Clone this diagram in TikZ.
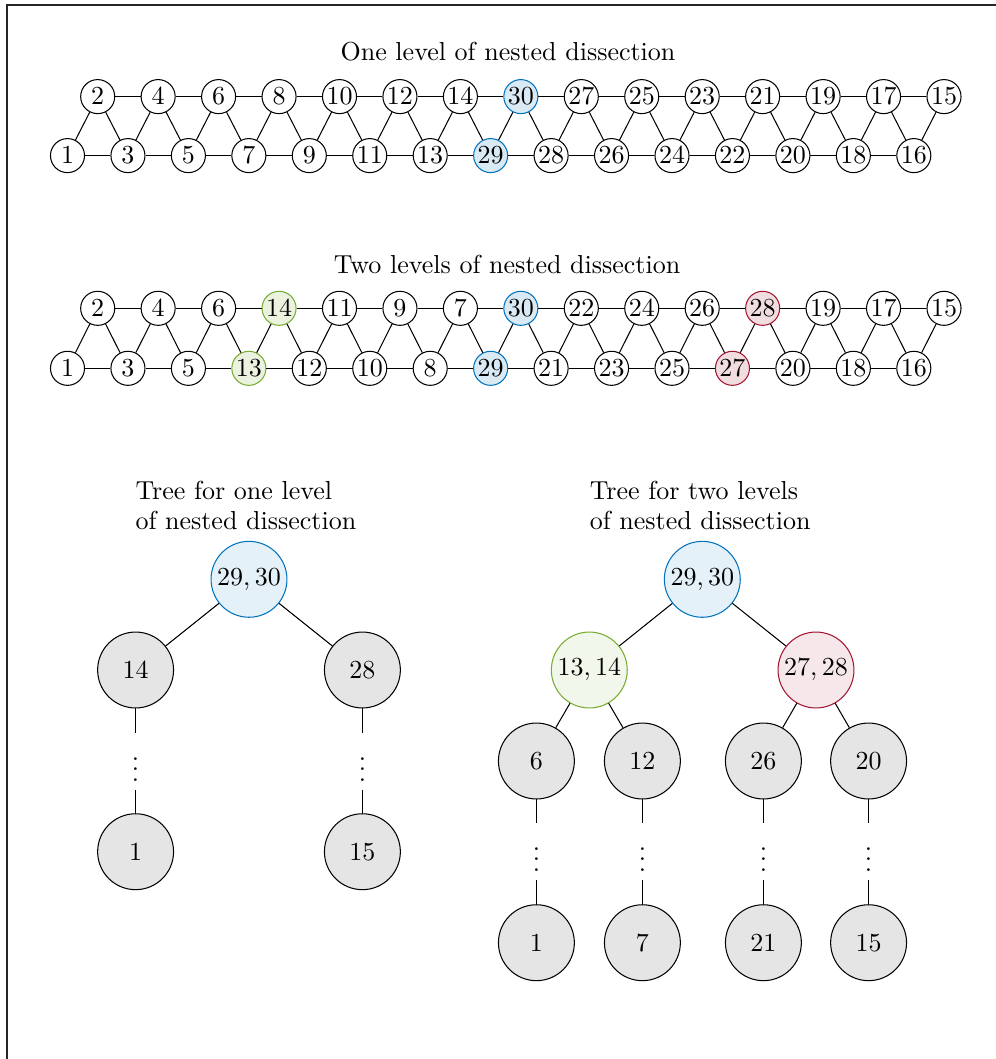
\documentclass[tikz,border=0pt]{standalone}
\usetikzlibrary{calc}
\definecolor{mblue}{RGB}{0,114,189}
\definecolor{mgreen}{RGB}{119,172,48}
\definecolor{mred}{RGB}{162,20,47}
\tikzset{
  gv/.style={circle,draw,fill=white,minimum size=13.1pt,inner sep=0pt},
  gblue/.style={gv,draw=mblue,fill=mblue!15},
  ggreen/.style={gv,draw=mgreen,fill=mgreen!15},
  gred/.style={gv,draw=mred,fill=mred!15},
  tv/.style={circle,draw,fill=black!10,minimum size=29.2pt,inner sep=0pt},
  tblue/.style={tv,draw=mblue,fill=mblue!10},
  tgreen/.style={tv,draw=mgreen,fill=mgreen!10},
  tred/.style={tv,draw=mred,fill=mred!10},
  dotsnode/.style={inner sep=0.333em},
  ttl/.style={align=left,anchor=west,inner sep=0pt},
}
\begin{document}
\begin{tikzpicture}[x=0.3846pt,y=-0.3846pt]
\useasboundingbox (0,0) rectangle (996,1059);
\draw[line width=0.6pt,black!85] (7,1059) -- (7,5) -- (996,5);

% ---------- graph 1 ----------
\node at (508,52) {One level of nested dissection};
\foreach \lab/\st [count=\i from 0] in {1/gv,3/gv,5/gv,7/gv,9/gv,11/gv,13/gv,29/gblue,28/gv,26/gv,24/gv,22/gv,20/gv,18/gv,16/gv}{
  \node[\st] (a\i) at ({67.5+60.45*\i},155.6) {$\lab$};
}
\foreach \lab/\st [count=\i from 0] in {2/gv,4/gv,6/gv,8/gv,10/gv,12/gv,14/gv,30/gblue,27/gv,25/gv,23/gv,21/gv,19/gv,17/gv,15/gv}{
  \node[\st] (b\i) at ({97.7+60.45*\i},96.6) {$\lab$};
}
\foreach \i [evaluate=\i as \j using int(\i+1)] in {0,...,13}{
  \draw (a\i) -- (a\j);
  \draw (b\i) -- (b\j);
  \draw (a\j) -- (b\i);
}
\foreach \i in {0,...,14}{ \draw (a\i) -- (b\i); }

% ---------- graph 2 ----------
\node at (507,264) {Two levels of nested dissection};
\foreach \lab/\st [count=\i from 0] in {1/gv,3/gv,5/gv,13/ggreen,12/gv,10/gv,8/gv,29/gblue,21/gv,23/gv,25/gv,27/gred,20/gv,18/gv,16/gv}{
  \node[\st] (c\i) at ({67.5+60.45*\i},368.3) {$\lab$};
}
\foreach \lab/\st [count=\i from 0] in {2/gv,4/gv,6/gv,14/ggreen,11/gv,9/gv,7/gv,30/gblue,22/gv,24/gv,26/gv,28/gred,19/gv,17/gv,15/gv}{
  \node[\st] (d\i) at ({97.7+60.45*\i},308.3) {$\lab$};
}
\foreach \i [evaluate=\i as \j using int(\i+1)] in {0,...,13}{
  \draw (c\i) -- (c\j);
  \draw (d\i) -- (d\j);
  \draw (c\j) -- (d\i);
}
\foreach \i in {0,...,14}{ \draw (c\i) -- (d\i); }

% ---------- tree 1 ----------
\node[ttl] at (135,490) {Tree for one level};
\node[ttl] at (135,520.5) {of nested dissection};
\node[tblue] (r1) at (249,579.3) {$29,30$};
\node[tv] (l14) at (135.6,670) {$14$};
\node[tv] (l28) at (362.4,670) {$28$};
\node[dotsnode] (ld1) at (135.6,761.5) {$\vdots$};
\node[dotsnode] (ld2) at (362.4,761.5) {$\vdots$};
\node[tv] (l1) at (135.6,851.7) {$1$};
\node[tv] (l15) at (362.4,851.7) {$15$};
\draw (r1) -- (l14);
\draw (r1) -- (l28);
\draw (l14) -- (ld1) -- (l1);
\draw (l28) -- (ld2) -- (l15);

% ---------- tree 2 ----------
\node[ttl] at (589.3,490) {Tree for two levels};
\node[ttl] at (589.3,520.5) {of nested dissection};
\node[tblue] (r2) at (702.3,579.3) {$29,30$};
\node[tgreen] (g1) at (589.3,670) {$13,14$};
\node[tred] (g2) at (816,670) {$27,28$};
\node[tv] (m6) at (536.4,761) {$6$};
\node[tv] (m12) at (642.4,761) {$12$};
\node[tv] (m26) at (763.4,761) {$26$};
\node[tv] (m20) at (868.6,761) {$20$};
\node[dotsnode] (md1) at (536.4,851.7) {$\vdots$};
\node[dotsnode] (md2) at (642.4,851.7) {$\vdots$};
\node[dotsnode] (md3) at (763.4,851.7) {$\vdots$};
\node[dotsnode] (md4) at (868.6,851.7) {$\vdots$};
\node[tv] (n1) at (536.4,942.7) {$1$};
\node[tv] (n7) at (642.4,942.7) {$7$};
\node[tv] (n21) at (763.4,942.7) {$21$};
\node[tv] (n15) at (868.6,942.7) {$15$};
\draw (r2) -- (g1);
\draw (r2) -- (g2);
\draw (g1) -- (m6);
\draw (g1) -- (m12);
\draw (g2) -- (m26);
\draw (g2) -- (m20);
\draw (m6) -- (md1) -- (n1);
\draw (m12) -- (md2) -- (n7);
\draw (m26) -- (md3) -- (n21);
\draw (m20) -- (md4) -- (n15);
\end{tikzpicture}
\end{document}
